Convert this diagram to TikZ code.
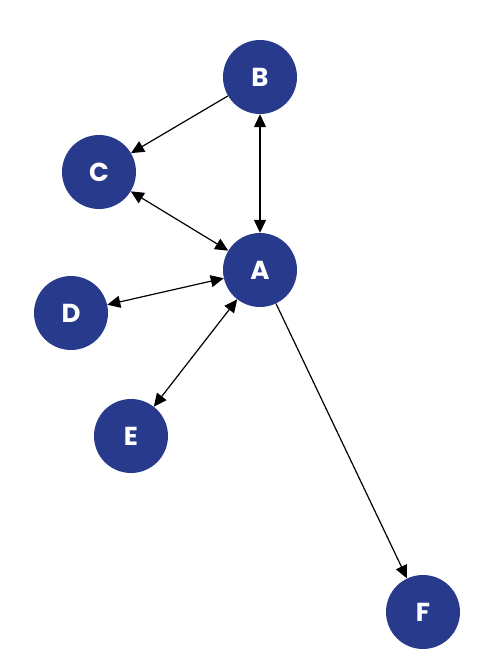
\documentclass[tikz,border=0pt]{standalone}
\usepackage{fontspec}
\setmainfont{Poppins}
\usepackage{tikz}
\usetikzlibrary{arrows.meta}
\definecolor{navy}{RGB}{40,58,140}

\begin{document}
\begin{tikzpicture}[
  x=1pt, y=-1pt,
  vertex/.style={circle, fill=navy, draw=none, text=white, minimum size=74pt, inner sep=0pt, font=\fontsize{26}{26}\selectfont\bfseries},
  arrow/.style={-{Triangle[length=13pt, width=12pt]}, line width=1.2pt},
  biarrow/.style={{Triangle[length=13pt, width=12pt]}-{Triangle[length=13pt, width=12pt]}, line width=1.2pt}
]
\useasboundingbox (0,0) rectangle (484,664);

\node[vertex] (B) at (260,77) {B};
\node[vertex] (C) at (99,172) {C};
\node[vertex] (A) at (260,270) {A};
\node[vertex] (D) at (71,313) {D};
\node[vertex] (E) at (131,436) {E};
\node[vertex] (F) at (423,612) {F};

\draw[arrow] (B) -- (C);
\draw[biarrow] (B) -- (A);
\draw[biarrow] (C) -- (A);
\draw[biarrow] (D) -- (A);
\draw[biarrow] (E) -- (A);
\draw[arrow] (A) -- (F);

\end{tikzpicture}
\end{document}
